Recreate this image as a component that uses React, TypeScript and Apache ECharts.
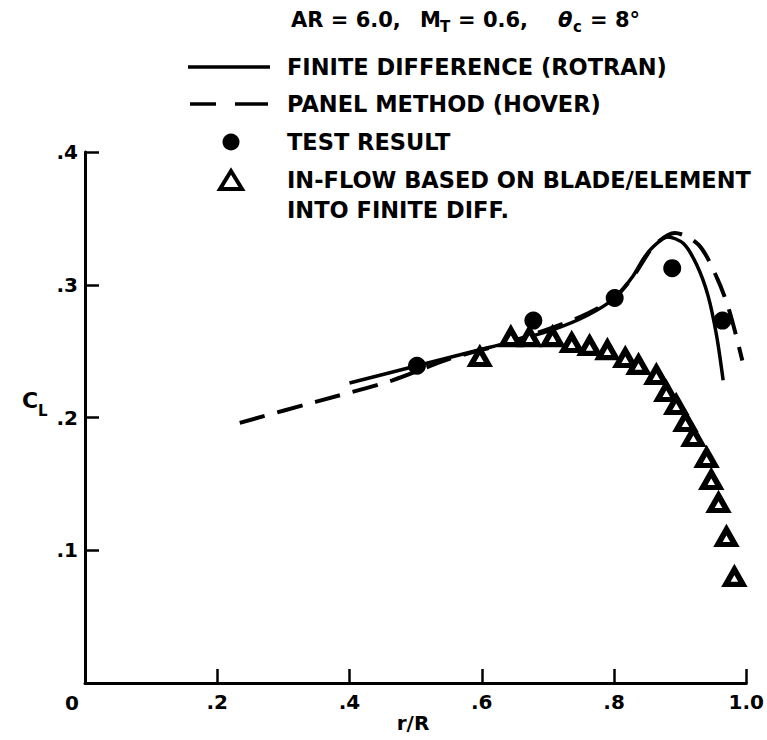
import React, { useEffect, useRef } from "react";
import * as echarts from "echarts";

// r/R (x) and C_L (y) values
const finiteDiffX = [0.400, 0.502, 0.597, 0.637, 0.707, 0.760, 0.801, 0.828, 0.845, 0.860, 0.881, 0.905, 0.925, 0.942, 0.955, 0.965];
const finiteDiffY = [0.226, 0.239, 0.251, 0.256, 0.266, 0.277, 0.290, 0.306, 0.320, 0.329, 0.336, 0.331, 0.315, 0.292, 0.262, 0.228];

const panelX = [0.234, 0.350, 0.465, 0.550, 0.650, 0.750, 0.800, 0.830, 0.860, 0.892, 0.928, 0.955, 0.974, 0.994];
const panelY = [0.196, 0.212, 0.228, 0.244, 0.258, 0.276, 0.290, 0.307, 0.329, 0.339, 0.330, 0.306, 0.281, 0.243];

const testX = [0.502, 0.678, 0.801, 0.888, 0.964];
const testY = [0.239, 0.273, 0.290, 0.3125, 0.273];

const inflowX = [0.597, 0.644, 0.672, 0.707, 0.736, 0.763, 0.790, 0.817, 0.837, 0.864, 0.879, 0.894, 0.908, 0.920, 0.940, 0.947, 0.958, 0.970, 0.982];
const inflowY = [0.2456, 0.2606, 0.2606, 0.2606, 0.2561, 0.2539, 0.2508, 0.2448, 0.2396, 0.2320, 0.2192, 0.2094, 0.1966, 0.1853, 0.1695, 0.1529, 0.1356, 0.1100, 0.0799];

const xTicks = [0, 0.2, 0.4, 0.6, 0.8, 1.0];
const xTickLabels = ["", ".2", ".4", ".6", ".8", "1.0"];
const yTickLabels = ["", ".1", ".2", ".3", ".4"];

const legendLabels = [
  "FINITE DIFFERENCE (ROTRAN)",
  "PANEL METHOD (HOVER)",
  "TEST RESULT",
  "IN-FLOW BASED ON BLADE/ELEMENT",
  "INTO FINITE DIFF.",
];

const FONT = '"DejaVu Sans", "Liberation Sans", Arial, sans-serif';

const zip = (xs: number[], ys: number[]) => xs.map((x, i) => [x, ys[i]]);

export default function App() {
  const ref = useRef<HTMLDivElement>(null);
  useEffect(() => {
    if (!ref.current) return;
    const chart = echarts.init(ref.current, undefined, { renderer: "svg" });
    const txt = (text: string, x: number, y: number, size = 21, extra: any = {}) => ({
      type: "text",
      x,
      y,
      style: {
        text,
        fill: "#000",
        font: `bold ${size}px ${FONT}`,
        align: "left",
        verticalAlign: "middle",
        ...extra,
      },
    });
    const legendY = [67, 104, 142, 180, 210];
    chart.setOption({
      animation: false,
      backgroundColor: "#fff",
      grid: { left: 85, right: 20, top: 152, bottom: 57, containLabel: false },
      xAxis: {
        type: "value",
        min: 0,
        max: 1,
        interval: 0.2,
        axisLine: { show: true, lineStyle: { color: "#000", width: 3 } },
        axisTick: { show: true, inside: true, length: 14, lineStyle: { color: "#000", width: 2.5 } },
        splitLine: { show: false },
        axisLabel: {
          color: "#000",
          fontWeight: "bold",
          fontSize: 20,
          fontFamily: FONT,
          margin: 9,
          formatter: (v: number) => {
            const i = xTicks.findIndex((t) => Math.abs(t - v) < 1e-6);
            return i >= 0 ? xTickLabels[i] : "";
          },
        },
      },
      yAxis: {
        type: "value",
        min: 0,
        max: 0.4,
        interval: 0.1,
        axisLine: { show: true, lineStyle: { color: "#000", width: 3 } },
        axisTick: { show: true, inside: true, length: 14, lineStyle: { color: "#000", width: 2.5 } },
        splitLine: { show: false },
        axisLabel: {
          color: "#000",
          fontWeight: "bold",
          fontSize: 20,
          fontFamily: FONT,
          margin: 7,
          formatter: (v: number) => yTickLabels[Math.round(v * 10)] ?? "",
        },
      },
      series: [
        {
          name: "FINITE DIFFERENCE (ROTRAN)",
          type: "line",
          data: zip(finiteDiffX, finiteDiffY),
          smooth: 0.3,
          showSymbol: false,
          lineStyle: { color: "#000", width: 3.5 },
          z: 3,
        },
        {
          name: "PANEL METHOD (HOVER)",
          type: "line",
          data: zip(panelX, panelY),
          smooth: 0.3,
          showSymbol: false,
          lineStyle: { color: "#000", width: 4, type: [26, 13] },
          z: 2,
        },
        {
          name: "IN-FLOW BASED ON BLADE/ELEMENT INTO FINITE DIFF.",
          type: "scatter",
          data: zip(inflowX, inflowY),
          symbol: "triangle",
          symbolSize: [17, 15],
          itemStyle: { color: "#fff", borderColor: "#000", borderWidth: 5.5, opacity: 1 },
          z: 4,
        },
        {
          name: "TEST RESULT",
          type: "scatter",
          data: zip(testX, testY),
          symbol: "circle",
          symbolSize: 18,
          itemStyle: { color: "#000", opacity: 1 },
          z: 5,
        },
      ],
      graphic: [
        // title
        txt("AR = 6.0,", 291, 20, 21),
        txt("M", 420, 20, 21),
        txt("T", 440, 27, 15),
        txt("= 0.6,", 458, 20, 21),
        txt("θ", 558, 20, 21, { font: `italic bold 21px ${FONT}` }),
        txt("c", 573, 27, 15),
        txt("= 8°", 590, 20, 21),
        // legend samples
        { type: "line", shape: { x1: 188, y1: legendY[0], x2: 270, y2: legendY[0] }, style: { stroke: "#000", lineWidth: 3.5 } },
        { type: "line", shape: { x1: 190, y1: legendY[1], x2: 216, y2: legendY[1] }, style: { stroke: "#000", lineWidth: 3.5 } },
        { type: "line", shape: { x1: 235, y1: legendY[1], x2: 268, y2: legendY[1] }, style: { stroke: "#000", lineWidth: 3.5 } },
        { type: "circle", shape: { cx: 231, cy: legendY[2], r: 8.5 }, style: { fill: "#000" } },
        {
          type: "polygon",
          shape: { points: [[220, legendY[3] + 9], [242, legendY[3] + 9], [231, legendY[3] - 9]] },
          style: { fill: "#fff", stroke: "#000", lineWidth: 4, lineJoin: "miter" },
        },
        // legend labels
        txt(legendLabels[0], 287, legendY[0], 22.5),
        txt(legendLabels[1], 287, legendY[1], 22.5),
        txt(legendLabels[2], 287, legendY[2], 22.5),
        txt(legendLabels[3], 287, legendY[3], 22.5),
        txt(legendLabels[4], 287, legendY[4], 22.5),
        // axis titles and origin label
        txt("0", 72, 703, 20, { align: "center" }),
        txt("r/R", 413, 723, 20, { align: "center" }),
        txt("C", 22, 400, 22),
        txt("L", 38, 411, 15),
      ],
    });
    return () => chart.dispose();
  }, []);
  return (
    <div
      ref={ref}
      style={{ position: "fixed", left: 0, top: 0, width: 767, height: 740, background: "#fff" }}
    />
  );
}
